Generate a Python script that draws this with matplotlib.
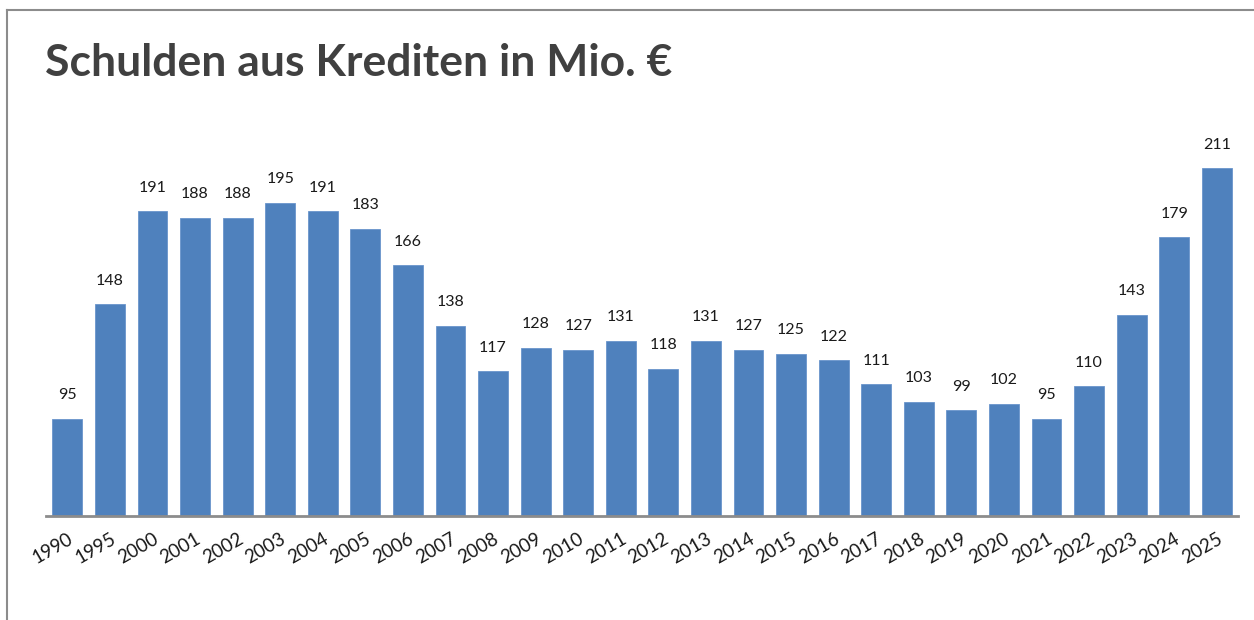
import matplotlib
matplotlib.use("Agg")
import matplotlib.pyplot as plt
from matplotlib.lines import Line2D

years = ["1990", "1995", "2000", "2001", "2002", "2003", "2004", "2005", "2006",
         "2007", "2008", "2009", "2010", "2011", "2012", "2013", "2014", "2015",
         "2016", "2017", "2018", "2019", "2020", "2021", "2022", "2023", "2024",
         "2025"]
debt = [95, 148, 191, 188, 188, 195, 191, 183, 166, 138, 117, 128, 127, 131,
        118, 131, 127, 125, 122, 111, 103, 99, 102, 95, 110, 143, 179, 211]

plt.rcParams['font.family'] = ['Lato', 'DejaVu Sans']

fig = plt.figure(figsize=(12.54, 6.20), dpi=100)
ax = fig.add_axes([0.0367, 0.1677, 0.9506, 0.662])

x = range(len(years))
bars = ax.bar(x, debt, width=0.7, color="#4F81BD", edgecolor="#6A95CC", linewidth=0.6)
ax.set_xlim(-0.5, len(years) - 0.5)
ax.set_ylim(50, 240)

for xi, v in zip(x, debt):
    ax.annotate(str(v), (xi, v), xytext=(0, 12), textcoords="offset points",
                ha="center", va="bottom", fontsize=11.5, color="#1A1A1A")

ax.set_xticks(list(x))
ax.set_xticklabels(years, rotation=30, ha="right", rotation_mode="anchor",
                   fontsize=13.5, color="#1A1A1A")
ax.tick_params(axis="x", length=0, pad=10)
ax.set_yticks([])
for side in ["top", "right", "left"]:
    ax.spines[side].set_visible(False)
ax.spines["bottom"].set_color("#8C8C8C")
ax.spines["bottom"].set_linewidth(2)

fig.text(0.036, 0.898, "Schulden aus Krediten in Mio. €", fontsize=32,
         fontweight="bold", color="#404040", ha="left", va="center")

# Rahmen oben und links
fig.add_artist(Line2D([7 / 1254, 1], [1 - 10 / 620, 1 - 10 / 620],
                      color="#8C8C8C", linewidth=1.5, transform=fig.transFigure))
fig.add_artist(Line2D([7 / 1254, 7 / 1254], [0, 1 - 10 / 620],
                      color="#8C8C8C", linewidth=1.5, transform=fig.transFigure))

fig.savefig("out.png", dpi=100)
